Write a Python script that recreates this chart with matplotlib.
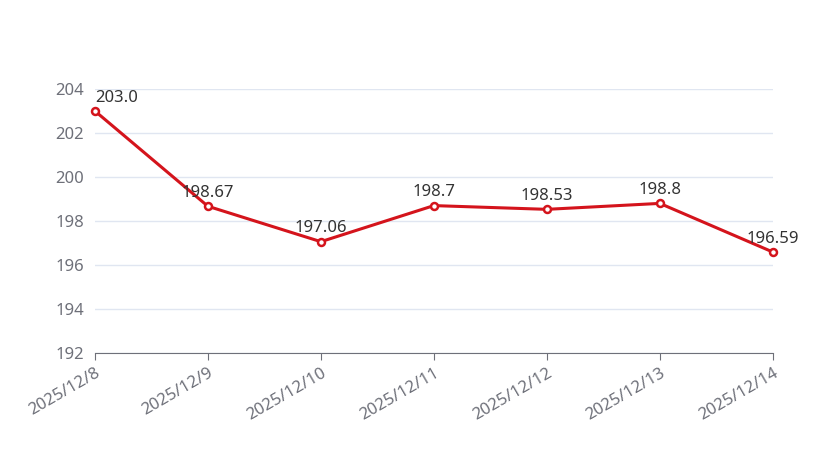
import matplotlib
matplotlib.use("Agg")
import matplotlib.pyplot as plt

plt.rcParams['font.family'] = ['Noto Sans', 'DejaVu Sans']

dates = ["2025/12/8", "2025/12/9", "2025/12/10", "2025/12/11",
         "2025/12/12", "2025/12/13", "2025/12/14"]
values = [203.0, 198.67, 197.06, 198.7, 198.53, 198.8, 196.59]
labels = ["203.0", "198.67", "197.06", "198.7", "198.53", "198.8", "196.59"]

fig = plt.figure(figsize=(8.4, 4.66), dpi=100)
ax = fig.add_axes([0.113, 0.2425, 0.807, 0.5665])

x = list(range(len(dates)))
ax.plot(x, values, color='#d4141c', lw=2.2, marker='o', ms=5,
        markerfacecolor='white', markeredgecolor='#d4141c', markeredgewidth=1.8,
        zorder=3, clip_on=False)
for xi, v, t in zip(x, values, labels):
    ax.text(xi, v + 0.25, t, ha='center' if 0 < xi < len(x) - 1 else ('left' if xi == 0 else 'center'),
            va='bottom', fontsize=12, color='#333333', zorder=4)

ax.set_xlim(0, len(x) - 1)
ax.set_ylim(192, 204)
ax.set_yticks(range(192, 205, 2))
ax.grid(axis='y', color='#e0e6f1', lw=1)
ax.set_axisbelow(True)
for s in ['top', 'right', 'left']:
    ax.spines[s].set_visible(False)
ax.spines['bottom'].set_color('#6e7079')
ax.tick_params(axis='y', length=0, labelsize=12, labelcolor='#6e7079', pad=8)
ax.tick_params(axis='x', length=5, color='#6e7079', labelsize=12, labelcolor='#6e7079')
ax.set_xticks(x)
ax.set_xticklabels(dates, rotation=30, ha='right', rotation_mode='anchor')

fig.savefig("out.png", dpi=100)
